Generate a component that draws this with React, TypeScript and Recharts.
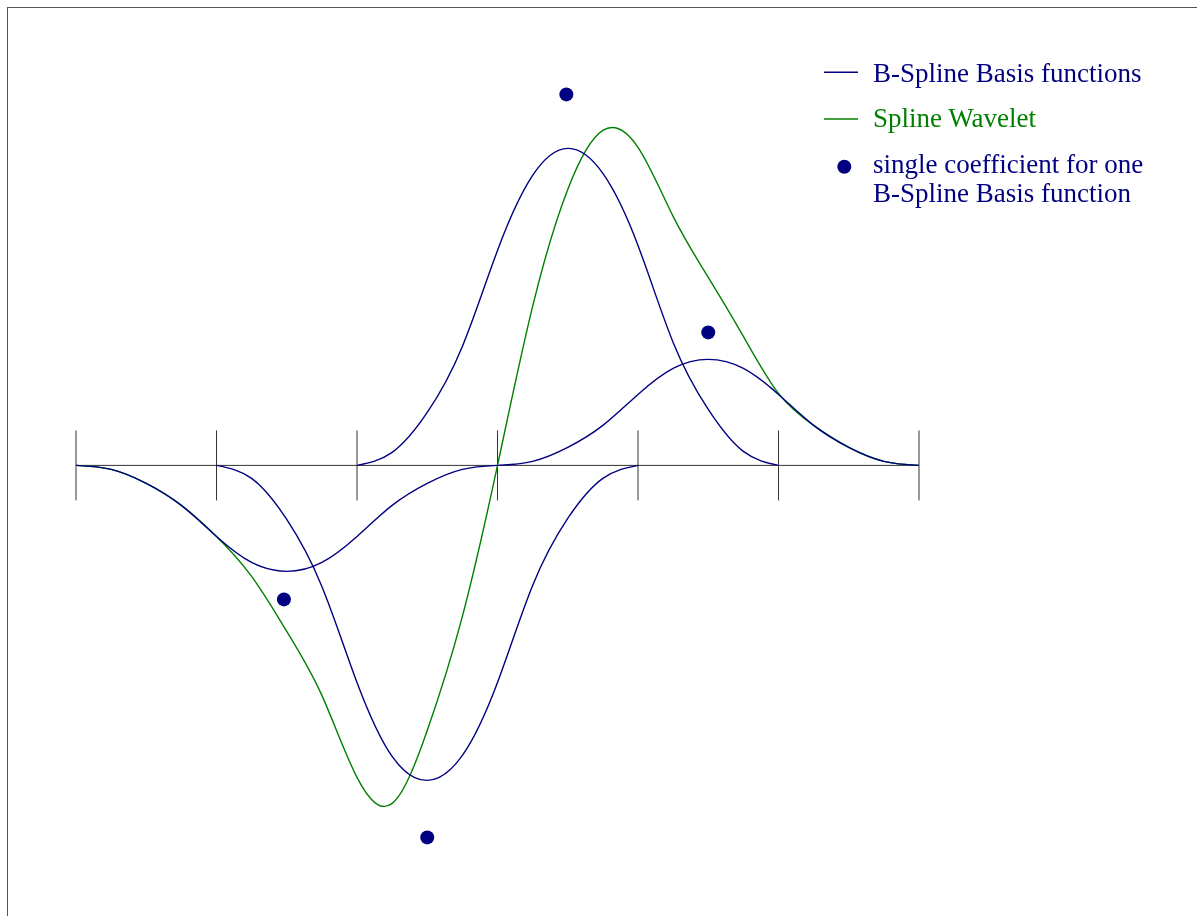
import { ComposedChart, Line, Scatter, XAxis, YAxis, ReferenceLine } from 'recharts'

// knot positions on the parameter axis
const knots = [0, 1, 2, 3, 4, 5, 6]

// curves are sampled every quarter knot
const sampleX = [
  0, 0.25, 0.5, 0.75, 1, 1.25, 1.5, 1.75, 2, 2.25, 2.5, 2.75, 3,
  3.25, 3.5, 3.75, 4, 4.25, 4.5, 4.75, 5, 5.25, 5.5, 5.75, 6,
]

// first knot of each basis function's support (each spans three knot intervals)
const basisStart = [0, 1, 2, 3]

// scaled B-spline basis functions
const basis1 = [0, -0.04, -0.18, -0.4, -0.71, -0.97, -1.06, -0.97, -0.71, -0.4, -0.18, -0.04, 0]
const basis2 = [0, -0.13, -0.54, -1.21, -2.17, -2.91, -3.15, -2.9, -2.17, -1.2, -0.53, -0.13, 0]
const basis3 = [0, 0.13, 0.53, 1.19, 2.15, 2.9, 3.17, 2.92, 2.2, 1.23, 0.56, 0.14, 0]
const basis4 = [0, 0.04, 0.18, 0.4, 0.71, 0.97, 1.06, 0.97, 0.71, 0.4, 0.18, 0.04, 0]

// the resulting spline wavelet
const wavelet = [
  0, -0.04, -0.18, -0.4, -0.71, -1.11, -1.66, -2.3, -3.12, -3.38, -2.65, -1.51, 0,
  1.59, 2.76, 3.35, 3.18, 2.49, 1.88, 1.29, 0.72, 0.4, 0.18, 0.04, 0,
]

// one coefficient per basis function, near the centre of its support
const coefX = [1.48, 2.5, 3.49, 4.5]
const coefY = [-1.34, -3.72, 3.71, 1.33]

const NAVY = '#000080'
const GREEN = '#008000'
const TICK_HALF = 0.35

const basisCurves = [basis1, basis2, basis3, basis4]

const rows = sampleX.map((x, i) => {
  const row: Record<string, number> = { x, wavelet: wavelet[i] }
  basisCurves.forEach((vals, j) => {
    const k = i - basisStart[j] * 4
    if (k >= 0 && k < vals.length) row['b' + j] = vals[k]
  })
  return row
})

const coefPoints = coefX.map((x, i) => ({ x, y: coefY[i] }))

const CoefDot = (props: any) => <circle cx={props.cx} cy={props.cy} r={7} fill={NAVY} />

function LegendBox() {
  const font = { fontFamily: '"Liberation Serif", "Times New Roman", serif', fontSize: 27 }
  return (
    <svg width={1180} height={220} style={{ position: 'absolute', left: 0, top: 0, pointerEvents: 'none' }}>
      <line x1={816} x2={850} y1={64.3} y2={64.3} stroke={NAVY} strokeWidth={1.4} />
      <text x={865} y={73.7} fill={NAVY} style={font}>B-Spline Basis functions</text>
      <line x1={816} x2={850} y1={111} y2={111} stroke={GREEN} strokeWidth={1.4} />
      <text x={865} y={119.3} fill={GREEN} style={font}>Spline Wavelet</text>
      <circle cx={836.3} cy={158.7} r={7} fill={NAVY} />
      <text x={865} y={165.3} fill={NAVY} style={font}>single coefficient for one</text>
      <text x={865} y={194.3} fill={NAVY} style={font}>B-Spline Basis function</text>
    </svg>
  )
}

export default function App() {
  // fixed frame so the page never scrolls; content box starts at (8, 8)
  return (
    <div
      style={{
        position: 'fixed',
        left: 7,
        top: 7,
        right: 0,
        bottom: 0,
        borderTop: '1px solid #555',
        borderLeft: '1px solid #555',
        overflow: 'hidden',
      }}
    >
      <ComposedChart
        width={1180}
        height={908}
        data={rows}
        margin={{ top: 17.4, right: 269, bottom: 10.6, left: 68 }}
      >
        <XAxis type="number" dataKey="x" domain={[0, 6]} hide />
        <YAxis type="number" domain={[-4.4, 4.4]} hide />
        <ReferenceLine y={0} stroke="#333" strokeWidth={1} />
        {knots.map((k) => (
          <ReferenceLine
            key={k}
            segment={[{ x: k, y: -TICK_HALF }, { x: k, y: TICK_HALF }]}
            stroke="#333"
            strokeWidth={1}
          />
        ))}
        <Line
          dataKey="wavelet"
          type="natural"
          stroke={GREEN}
          strokeWidth={1.4}
          dot={false}
          activeDot={false}
          isAnimationActive={false}
        />
        {basisCurves.map((_, j) => (
          <Line
            key={j}
            dataKey={'b' + j}
            type="natural"
            stroke={NAVY}
            strokeWidth={1.4}
            dot={false}
            activeDot={false}
            isAnimationActive={false}
          />
        ))}
        <Scatter data={coefPoints} dataKey="y" shape={CoefDot} isAnimationActive={false} />
      </ComposedChart>
      <LegendBox />
    </div>
  )
}
